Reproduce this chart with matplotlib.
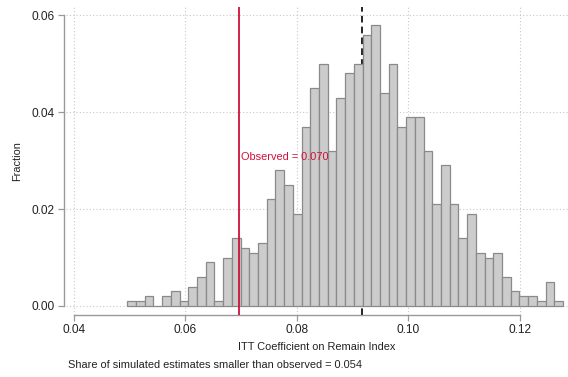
import numpy as np
import matplotlib
matplotlib.use("Agg")
import matplotlib.pyplot as plt

# share of simulated ITT estimates in each of the 50 bins
fractions = [0.001, 0.001, 0.002, 0.000, 0.002, 0.003, 0.001, 0.004, 0.006, 0.009,
             0.001, 0.010, 0.014, 0.012, 0.011, 0.013, 0.022, 0.028, 0.025, 0.019,
             0.037, 0.045, 0.050, 0.032, 0.043, 0.048, 0.050, 0.056, 0.058, 0.044,
             0.050, 0.037, 0.039, 0.039, 0.032, 0.021, 0.029, 0.021, 0.014, 0.019,
             0.011, 0.010, 0.011, 0.006, 0.003, 0.002, 0.002, 0.001, 0.005, 0.001]
bin_lo = 0.0496
bin_hi = 0.1277
observed = 0.0697
sim_mean = 0.0916
share_smaller = 0.054

xticks = [0.04, 0.06, 0.08, 0.10, 0.12]
yticks = [0.00, 0.02, 0.04, 0.06]

plt.rcParams['font.family'] = ['Liberation Sans', 'DejaVu Sans']

W, H = 568, 377
fig = plt.figure(figsize=(W / 100, H / 100), dpi=100)
# axes box in pixels: left 66, right 568, top 7, bottom 315
ax = fig.add_axes([66 / W, (H - 315) / H, (568 - 66) / W, (315 - 7) / H])

edges = np.linspace(bin_lo, bin_hi, len(fractions) + 1)
centers = (edges[:-1] + edges[1:]) / 2
ax.hist(centers, bins=edges, weights=fractions, color='#cccccc',
        edgecolor='#8a8a8a', linewidth=0.9, zorder=3)

ax.axvline(sim_mean, color='black', linestyle=(0, (4, 2.5)), linewidth=1.2, zorder=2)
ax.axvline(observed, color='#d0103a', linewidth=1.3, zorder=4)
ax.text(observed + 0.0002, 0.0307, 'Observed = %.3f' % observed, color='#d0103a',
        fontsize=7.9, va='center', ha='left', zorder=5)

ax.set_xlim(0.0386, 0.1286)
ax.set_ylim(-0.00186, 0.0617)
ax.set_xticks(xticks)
ax.set_xticklabels(['%.2f' % v for v in xticks])
ax.set_yticks(yticks)
ax.set_yticklabels(['%.2f' % v for v in yticks])

ax.grid(True, color='#c8c8c8', linestyle=(0, (1, 2)), linewidth=0.8, zorder=0)
ax.set_axisbelow(True)

for s in ['top', 'right']:
    ax.spines[s].set_visible(False)
ax.spines['left'].set_position(('outward', 1.5))
ax.spines['left'].set_bounds(0.0, 0.06)
ax.spines['bottom'].set_bounds(0.04, 0.12)
for s in ['left', 'bottom']:
    ax.spines[s].set_color('#999999')
    ax.spines[s].set_linewidth(1.0)
ax.tick_params(axis='both', colors='#999999', labelcolor='#222222',
               labelsize=8.6, length=4.5, width=0.9, pad=2)

ax.set_xlabel('ITT Coefficient on Remain Index', fontsize=7.9, color='#222222', labelpad=4)
ax.set_ylabel('Fraction', fontsize=7.9, color='#222222', labelpad=7)

fig.text(68 / W, 1 - 365 / H, 'Share of simulated estimates smaller than observed = %.3f' % share_smaller,
         fontsize=7.9, color='#222222', va='center', ha='left')

fig.savefig('out.png', dpi=100)
